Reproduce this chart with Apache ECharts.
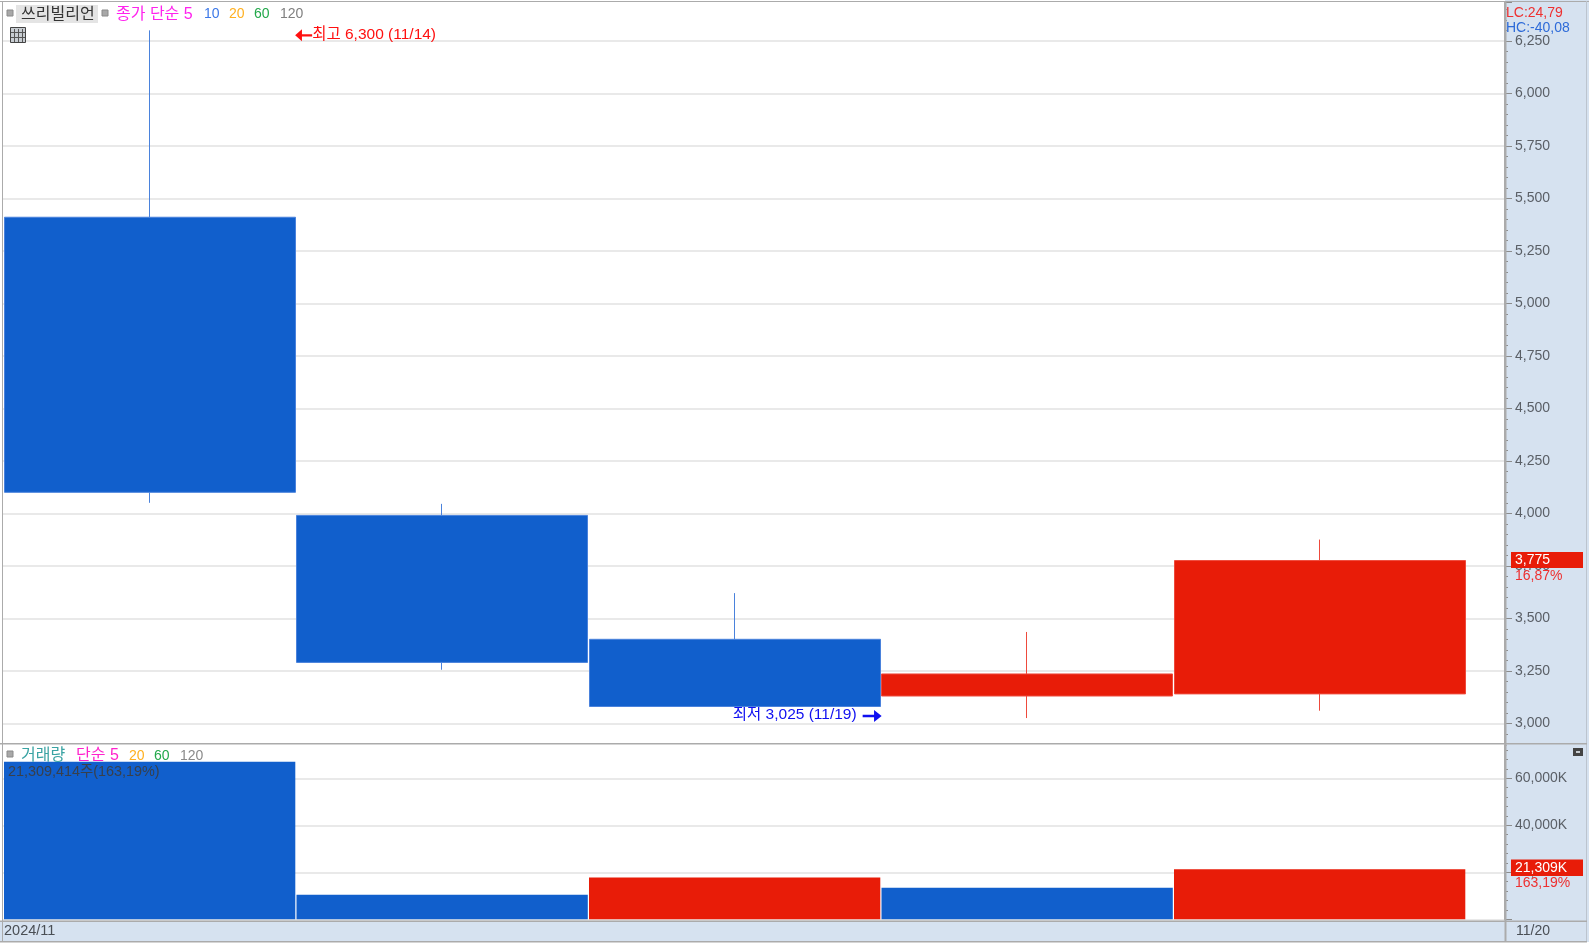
<!DOCTYPE html>
<html><head><meta charset="utf-8">
<style>html,body{margin:0;padding:0;background:#fff}#c{width:1589px;height:946px}</style>
<script src="https://cdn.jsdelivr.net/npm/echarts@6/dist/echarts.min.js"></script>
</head><body><div id="c"></div>
<script>
const dates = ['11/14','11/15','11/18','11/19','11/20'];
const opens = [5410,3990,3400,3130,3140];
const closes = [4100,3290,3080,3235,3775];
const lows = [4050,3255,3080,3025,3060];
const highs = [6300,4045,3620,3435,3875];
const volumes = [67060,10420,17740,13450,21309];
const volumeRising = [false,false,true,false,true];

const RED='#E81C08', BLUE='#115FCC', RED_E='#EE4A3C', BLUE_E='#4A82DC';
const PANEL='#D6E2F0', FRAME='#ABABAB', GRID='#E2E2E2', AXIS_TXT='#5A5F66';
const FONT='"Liberation Sans","Noto Sans CJK KR",sans-serif';

const chart = echarts.init(document.getElementById('c'),null,{renderer:'canvas'});
const txt=(x,y,text,fill,extra)=>({type:'text',z:100,x,y,silent:true,style:Object.assign({text,fill,font:'14px '+FONT,textVerticalAlign:'middle',textAlign:'left'},extra||{})});
const ko={font:'16px '+FONT};
const rect=(x,y,w,h,fill,z)=>({type:'rect',z:z==null?100:z,silent:true,shape:{x,y,width:w,height:h},style:{fill}});
const marker=(x,y)=>({type:'rect',z:100,silent:true,shape:{x,y,width:6,height:6},style:{fill:'#A8A8A8',stroke:'#8A8A8A',lineWidth:1}});

const graphic=[
 rect(1505,0,84,942,PANEL,-1),
 rect(0,921,1589,21,PANEL,-1),
 // covers the part of the price axis running under the volume pane
 rect(3,744,1502,177,'#fff',2),
 rect(1506,744,80,177,PANEL,2),
 rect(1506.5,744.5,9,2,PANEL,4),
 // frame
 rect(0,1,1589,1,FRAME,50), rect(2,1,1,941,FRAME,50), rect(1586,1,1,941,'#BCC4CE',50),
 rect(0,743,1587,1.5,FRAME,50), rect(0,920.5,1587,1.5,FRAME,50), rect(0,941,1587,1.5,FRAME,50),
 rect(1504.5,1,2,941,FRAME,50),
 // top legend
 marker(7,10), rect(16,5,82,18,'#E4E4E4',60),
 txt(21,14.5,'쓰리빌리언','#333',ko),
 marker(102,10),
 txt(116,14.5,'종가 단순 5','#FF22EE',ko),
 txt(204,14.5,'10','#3C78E8'), txt(229,14.5,'20','#FFB020'),
 txt(254,14.5,'60','#22A84A'), txt(280,14.5,'120','#808080'),
 // table icon
 {type:'rect',z:100,silent:true,shape:{x:10.5,y:27.5,width:15,height:15},style:{fill:'#C8CDD2',stroke:'#444',lineWidth:1}},
 rect(14,29,1,13,'#555',101), rect(18,29,1,13,'#555',101), rect(22,29,1,13,'#555',101),
 rect(11,32,14,1,'#555',101), rect(11,37,14,1,'#555',101),
 // LC / HC
 rect(1507,4,78,31,PANEL,100),
 txt(1506,13.5,'LC:24,79','#EE3030'), txt(1506,28,'HC:-40,08','#2E6BD8'),
 // current price and volume tags
 rect(1511,552,72,16,RED,100), txt(1515,560.5,'3,775','#fff'), txt(1515,576,'16,87%','#EE3030'),
 rect(1511,859.5,72,16.5,RED,100), txt(1515,868,'21,309K','#fff'), txt(1515,883,'163,19%','#EE3030'),
 // volume legend
 marker(7,751),
 txt(21,756,'거래량','#3AA3A3',ko), txt(76,756,'단순 5','#FF22CC',ko),
 txt(129,756,'20','#FFB020'), txt(154,756,'60','#22A84A'), txt(180,756,'120','#8A8A8A'),
 txt(8,772,'21,309,414주(163,19%)','#38404C',{font:'14.4px '+FONT}),
 // expand icon
 rect(1573,748,10,8,'#444',100), rect(1576,751,4,2,'#C8CDD2',101),
 // bottom strip
 txt(4,931,'2024/11','#4A4F55',{font:'14.5px '+FONT}), txt(1516,931,'11/20','#4A4F55')
];

const hiddenX=(gridIndex)=>({type:'category',gridIndex,data:dates,show:false,boundaryGap:true});
const yAxisBase={type:'value',position:'right',axisLine:{show:true,lineStyle:{color:FRAME,width:2}},
 axisLabel:{color:AXIS_TXT,fontFamily:FONT,fontSize:14,margin:10,padding:[0,0,3,0]},
 axisTick:{show:true,length:7,lineStyle:{color:'#8C8C8C'}},
 minorTick:{show:true,splitNumber:5,length:3,lineStyle:{color:'#8C8C8C'}},
 splitLine:{show:true,showMaxLine:false,lineStyle:{color:GRID,width:1.5}}};
const hiddenY=(gridIndex,min,max)=>({type:'value',gridIndex,min,max,show:false,splitLine:{show:false}});
const P_MIN=2750,P_MAX=6435,V_MIN=0,V_MAX=74170;
const annotationLabel=(color,position,distance,formatter)=>({show:true,position,distance,color,fontFamily:FONT,fontSize:15.5,offset:[0,-1],formatter});

chart.setOption({
 animation:false,backgroundColor:'#fff',
 grid:[
  {left:3,width:1502,top:2,height:773.8},
  {left:3.4,width:1462.5,top:2,height:773.8},
  {left:3,width:1502,top:745,height:174.3},
  {left:3.4,width:1462.5,top:745,height:174.3}
 ],
 xAxis:[hiddenX(0),hiddenX(1),hiddenX(2),hiddenX(3)],
 yAxis:[
  Object.assign({},yAxisBase,{gridIndex:0,min:P_MIN,max:P_MAX,interval:250,z:0,
    axisLabel:Object.assign({},yAxisBase.axisLabel,{formatter:v=>(v%250===0&&v>=3000)?v.toLocaleString('en-US'):''})}),
  hiddenY(1,P_MIN,P_MAX),
  Object.assign({},yAxisBase,{gridIndex:2,min:V_MIN,max:V_MAX,interval:20000,z:3,
    axisLabel:Object.assign({},yAxisBase.axisLabel,{formatter:v=>(v>0&&v%20000===0)?v.toLocaleString('en-US')+'K':''})}),
  hiddenY(3,V_MIN,V_MAX)
 ],
 series:[
  {type:'candlestick',xAxisIndex:1,yAxisIndex:1,z:5,barWidth:291.3,clip:false,
   data:dates.map((d,i)=>[opens[i],closes[i],lows[i],highs[i]]),
   itemStyle:{color:RED,color0:BLUE,borderColor:RED_E,borderColor0:BLUE_E,borderWidth:1},
   markPoint:{silent:true,animation:false,data:[
    {coord:['11/14',6300],symbol:'path://M0,5 L8,0 L8,4 L20,4 L20,6 L8,6 L8,10Z',symbolSize:[17,12],symbolOffset:[154,5],
      itemStyle:{color:'#FF1010'},label:annotationLabel('#FF1010','right',0,'최고 6,300 (11/14)')},
    {coord:['11/19',3025],symbol:'path://M20,5 L12,0 L12,4 L0,4 L0,6 L12,6 L12,10Z',symbolSize:[19,12],symbolOffset:[-155,-2],
      itemStyle:{color:'#1010F0'},label:annotationLabel('#1010F0','left',6,'최저 3,025 (11/19)')}
   ]}
  },
  {type:'bar',xAxisIndex:3,yAxisIndex:3,z:5,barWidth:291.3,data:volumes,
   itemStyle:{color:p=>volumeRising[p.dataIndex]?RED:BLUE}}
 ],
 graphic:{elements:graphic}
});
</script></body></html>
